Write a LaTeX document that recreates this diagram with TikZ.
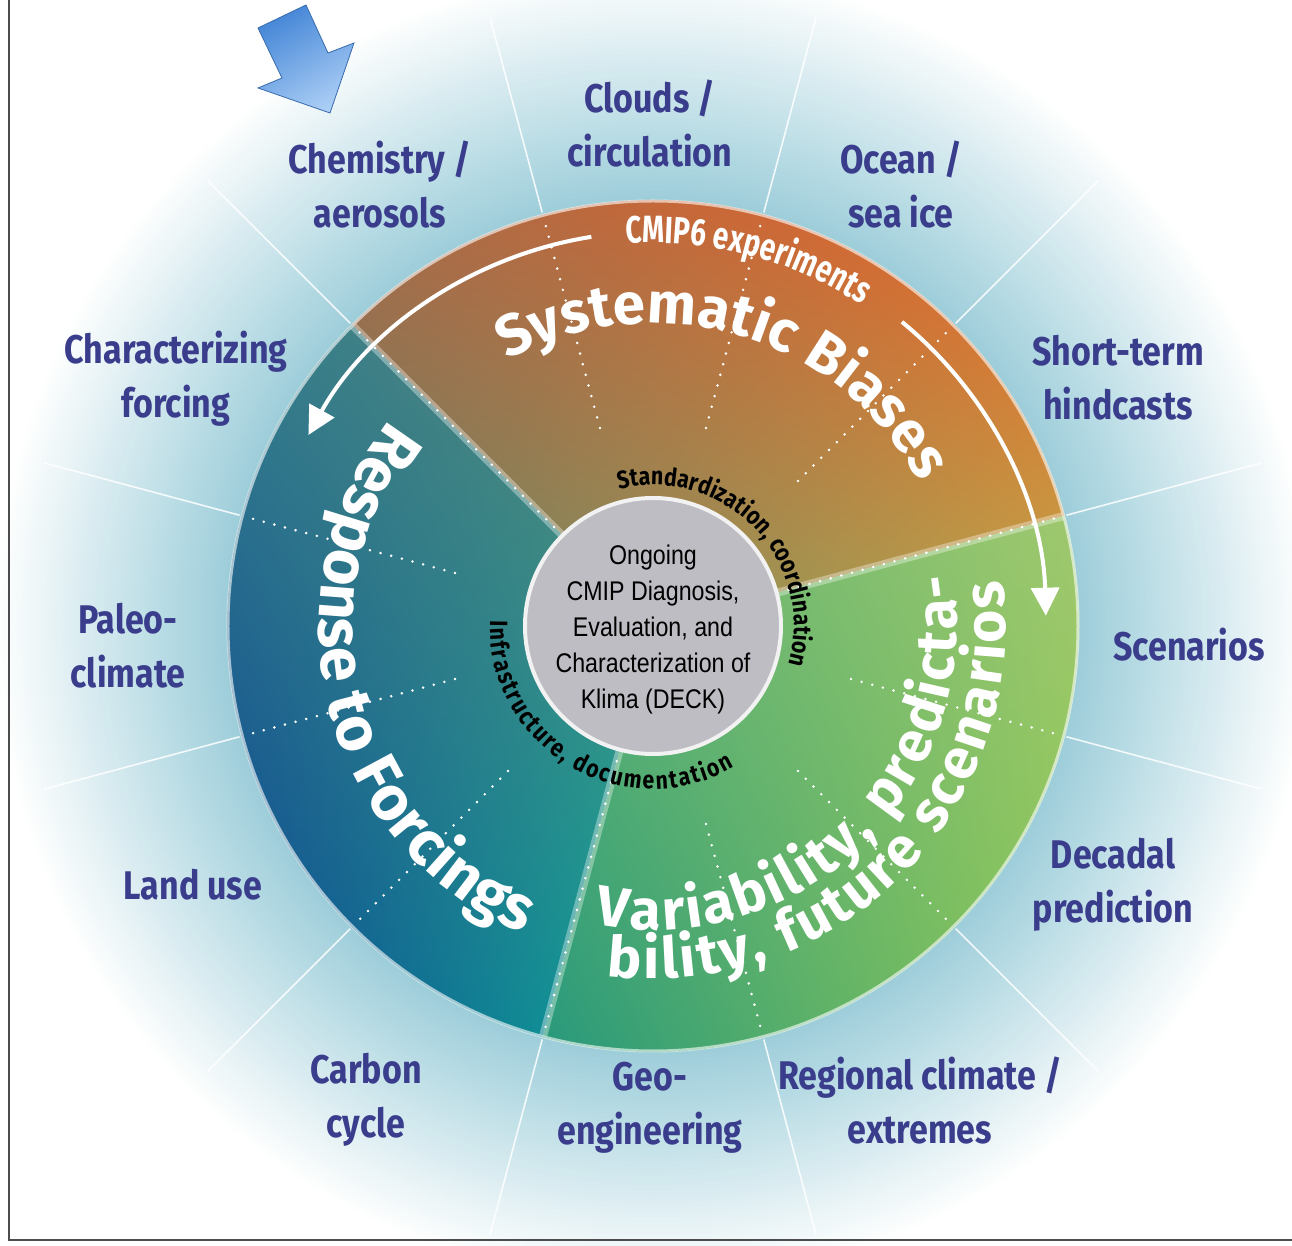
\documentclass[tikz,border=0pt]{standalone}
\usepackage{fontspec}
\usetikzlibrary{arrows.meta,decorations.text,shadings}
\newfontfamily\lblfont{Fira Sans}[FakeStretch=0.85]
\newfontfamily\arcfont{Fira Sans}
\newfontfamily\slimfont{Fira Sans}[FakeStretch=0.74]
\newfontfamily\ringfont{Fira Sans}[FakeStretch=0.85]
\newfontfamily\deckfont{Liberation Sans}[FakeStretch=0.86]
\newcommand\lblfnt{\lblfont\bfseries\fontsize{40}{54}\selectfont}
\newcommand\bigarc{\arcfont\bfseries\fontsize{58}{58}\selectfont}
\newcommand\varfnt{\arcfont\bfseries\fontsize{57}{57}\selectfont}
\newcommand\respfnt{\arcfont\bfseries\fontsize{63}{63}\selectfont}
\newcommand\cmipfnt{\slimfont\bfseries\fontsize{38}{38}\selectfont}
\newcommand\ringfnt{\ringfont\bfseries\fontsize{25}{25}\selectfont}
\newcommand\deckfnt{\deckfont\fontsize{27}{36}\selectfont}
\definecolor{lblblue}{RGB}{58,60,140}
\definecolor{glowblue}{RGB}{158,206,218}
\definecolor{deckgrey}{RGB}{190,189,196}
\definecolor{arrowdark}{RGB}{70,135,215}
\definecolor{arrowlight}{RGB}{170,205,245}
\definecolor{biasUL}{RGB}{176,104,68}
\definecolor{biasUR}{RGB}{238,92,36}
\definecolor{biasLL}{RGB}{102,128,102}
\definecolor{biasLR}{RGB}{192,166,72}
\definecolor{respUL}{RGB}{48,124,142}
\definecolor{respUR}{RGB}{88,136,118}
\definecolor{respLL}{RGB}{10,60,146}
\definecolor{respLR}{RGB}{18,166,150}
\definecolor{varUL}{RGB}{95,180,115}
\definecolor{varUR}{RGB}{160,200,110}
\definecolor{varLL}{RGB}{35,150,125}
\definecolor{varLR}{RGB}{140,200,80}
% sector of the wheel, shaded with four corner colours
\def\wheelsector[#1](#2:#3){\shade[#1] (0,0) -- (#2:426pt) arc[start angle=#2, end angle=#3, radius=426pt] -- cycle;}
% text set along an arc around the centre
\def\arctext[#1](#2:#3:#4)#5{\path[decorate, decoration={text along path, text align=center, #1, text={#5}}] (#2:#4pt) arc[start angle=#2, end angle=#3, radius=#4pt];}
\begin{document}
\begin{tikzpicture}[x=1pt,y=1pt,
    lbl/.style={text=lblblue, align=center, font=\lblfnt},
    spoke/.style={white, line width=1.6pt, opacity=.85},
    subdiv/.style={white, line width=2.8pt, line cap=round, dash pattern=on 0pt off 11pt},
    divband/.style={white, line width=8pt, opacity=.35},
    arcarrow/.style={white, line width=4pt, -{Triangle[length=28pt,width=28pt]}}]
    %%%%% START %%%%%
    \useasboundingbox (-653,-620) rectangle (639,626);
    \fill[white] (-653,-620) rectangle (639,626);

    % glow behind the wheel
    \foreach \k in {0,...,50}{
        \pgfmathsetmacro\rr{660-\k*4.6}
        \pgfmathsetmacro\pp{\k*2}
        \fill[glowblue!\pp!white] (0,0) circle[radius=\rr pt];
    }
    \foreach \a in {15,45,...,345}
        \draw[spoke] (\a:428pt) -- (\a:630pt);

    % the three sectors
    \wheelsector[upper left=biasUL, upper right=biasUR, lower left=biasLL, lower right=biasLR](15:135)
    \wheelsector[upper left=respUL, upper right=respUR, lower left=respLL, lower right=respLR](135:255)
    \wheelsector[upper left=varUL, upper right=varUR, lower left=varLL, lower right=varLR](255:375)
    \draw[white, line width=3pt, opacity=.6] (0,0) circle[radius=425pt];

    \foreach \a in {45,75,105,165,195,225,285,315,345}
        \draw[subdiv] (\a:205pt) -- (\a:422pt);
    \foreach \a in {15,135,255}{
        \draw[divband] (\a:128pt) -- (\a:424pt);
        \draw[subdiv] (\a:140pt) -- (\a:420pt);
    }

    % centre
    \fill[deckgrey] (0,0) circle[radius=128pt];
    \draw[white!90!gray, line width=4pt] (0,0) circle[radius=128pt];
    \node[align=center, font=\deckfnt] (deck) at (0,-4)
        {Ongoing\\CMIP Diagnosis,\\Evaluation, and\\Characterization of\\Klima (DECK)};

    \arctext[text color=black, text align=fit to path](104:-16:141){|\ringfnt|Standardization, coordination}
    \arctext[text color=black, text align=fit to path](178:300:163){|\ringfnt|Infrastructure, documentation}

    % white texts and arrows
    \arctext[text color=white](96:55:383){|\cmipfnt|CMIP6 experiments}
    \arctext[text color=white](119:28:303){|\bigarc|Systematic Biases}
    \arctext[text color=white](142:247:334){|\respfnt|Response to Forcings}
    \arctext[text color=white, text align=fit to path](259:370:304){|\varfnt|Variability, predicta-}
    \arctext[text color=white, text align=fit to path](262.5:367.5:353){|\varfnt|bility, future scenarios}

    \draw[arcarrow] (99:394pt) arc[start angle=99, end angle=151, radius=394pt];
    \draw[arcarrow] (50.7:393pt) arc[start angle=50.7, end angle=1.5, radius=393pt];

    % labels round the wheel
    \node[lbl] (chem) at (-273,441) {Chemistry /\\aerosols};
    \node[lbl] (cloud) at (-3,502) {Clouds /\\circulation};
    \node[lbl] (ocean) at (248,441) {Ocean /\\sea ice};
    \node[lbl] (hind) at (465,248) {Short-term\\hindcasts};
    \node[lbl] (scen) at (536,-19) {Scenarios};
    \node[lbl] (deca) at (460,-259) {Decadal\\prediction};
    \node[lbl] (regio) at (267,-475) {Regional climate /\\extremes};
    \node[lbl] (geo) at (-3,-482) {Geo-\\engineering};
    \node[lbl] (carb) at (-287,-474) {Carbon\\cycle};
    \node[lbl] (land) at (-460,-259) {Land use};
    \node[lbl] (paleo) at (-525,-20) {Paleo-\\climate};
    \node[lbl] (charf) at (-477,247) {Characterizing\\forcing};

    % blue pointer
    \shadedraw[left color=arrowdark, right color=arrowlight, shading angle=30, draw=arrowdark!80!black, line width=0.8pt]
        (-347,621) -- (-325,573) -- (-299,583) -- (-323,513) -- (-395,538) -- (-371,548) -- (-395,598) -- cycle;

    % frame
    \draw[gray!60!black, line width=2pt] (-644,626) -- (-644,-614) -- (639,-614);
    %%%%% END %%%%%
\end{tikzpicture}
\end{document}
